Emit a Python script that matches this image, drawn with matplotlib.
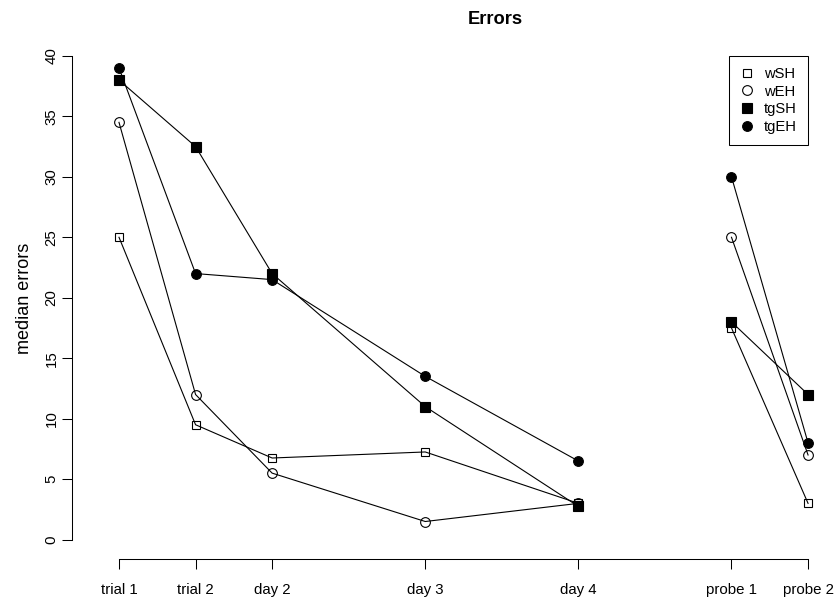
import matplotlib
matplotlib.use("Agg")
import matplotlib.pyplot as plt
from matplotlib.lines import Line2D

plt.rcParams['font.family'] = ['Liberation Sans', 'DejaVu Sans']

# Session labels and their positions along the x axis
sessions = ["trial 1", "trial 2", "day 2", "day 3", "day 4", "probe 1", "probe 2"]
session_pos = [1, 2, 3, 5, 7, 9, 10]

# Median errors per group (training sessions, then probe sessions)
wSH = [25.0, 9.5, 6.75, 7.25, 3.0, 17.5, 3.0]
wEH = [34.5, 12.0, 5.5, 1.5, 3.0, 25.0, 7.0]
tgSH = [38.0, 32.5, 22.0, 11.0, 2.75, 18.0, 12.0]
tgEH = [39.0, 22.0, 21.5, 13.5, 6.5, 30.0, 8.0]

groups = ["wSH", "wEH", "tgSH", "tgEH"]
series = [wSH, wEH, tgSH, tgEH]
styles = [
    dict(marker='s', markersize=6.0, markerfacecolor='none'),
    dict(marker='o', markersize=7.0, markerfacecolor='none'),
    dict(marker='s', markersize=6.5, markerfacecolor='black'),
    dict(marker='o', markersize=7.0, markerfacecolor='black'),
]

W, H = 835, 598
fig = plt.figure(figsize=(W / 100, H / 100), dpi=100)
ax = fig.add_axes([72 / W, (H - 559) / H, (918 - 72) / W, (559 - 36.5) / H])
ax.set_xlim(0.3861, 11.436)
ax.set_ylim(-1.6, 41.6)

n_train = 5
for vals, st in zip(series, styles):
    common = dict(color='black', linewidth=0.8, markeredgecolor='black',
                  markeredgewidth=0.8, clip_on=False, **st)
    ax.plot(session_pos[:n_train], vals[:n_train], **common)
    ax.plot(session_pos[n_train:], vals[n_train:], **common)

# R-style axes: only left and bottom lines, spanning the tick range
for side in ('top', 'right'):
    ax.spines[side].set_visible(False)
ax.spines['left'].set_bounds(0, 40)
ax.spines['bottom'].set_bounds(1, 10)
for side in ('left', 'bottom'):
    ax.spines[side].set_linewidth(0.75)

ax.set_xticks(session_pos)
ax.set_xticklabels(sessions)
ax.set_yticks(range(0, 41, 5))
ax.tick_params(axis='both', length=7.2, width=0.75, labelsize=10.8)
ax.tick_params(axis='x', pad=10)
ax.tick_params(axis='y', pad=2.5, labelrotation=90)
for lbl in ax.get_yticklabels():
    lbl.set_va('center')

fig.text(25 / W, 1 - 298 / H, "median errors", rotation=90,
         ha='center', va='center', fontsize=13)
fig.text(495 / W, 1 - 19 / H, "Errors", ha='center', va='center',
         fontsize=13.2, fontweight='bold')

handles = [Line2D([], [], linestyle='none', color='black',
                  markeredgecolor='black', markeredgewidth=0.8, **st)
           for st in styles]
leg = ax.legend(handles, groups, loc='upper right', bbox_to_anchor=(10, 40),
                bbox_transform=ax.transData, borderaxespad=0, fancybox=False,
                framealpha=1, edgecolor='black', fontsize=10.6,
                handlelength=0.9, handletextpad=0.7, borderpad=0.75,
                labelspacing=0.25, numpoints=1)
leg.get_frame().set_linewidth(0.75)

fig.savefig("out.png", dpi=100)
